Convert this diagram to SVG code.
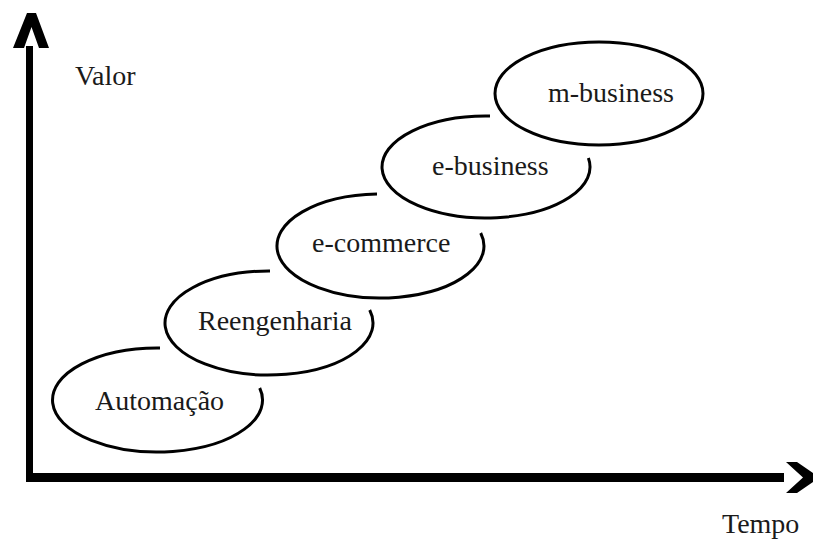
<svg xmlns="http://www.w3.org/2000/svg" width="813" height="539" viewBox="0 0 813 539">
<style>
.bg{fill:#fff}
.oval{fill:none;stroke:#000;stroke-width:3}
.lbl{font-family:"Liberation Serif","Times New Roman",serif;font-size:28px;fill:#1a1a1a}
.axis{stroke:#000;fill:none}
.head{fill:#000}
</style>
<rect class="bg" x="0" y="0" width="813" height="539"/>
<g id="connectors">
  <g id="axis-y">
    <line class="axis" x1="29.5" y1="46" x2="29.5" y2="482" stroke-width="7"/>
    <polygon class="head" points="13,48 27,13 36,13 49,48 39,48 31.5,27 24,48"/>
  </g>
  <g id="axis-x">
    <line class="axis" x1="26" y1="477.5" x2="784" y2="477.5" stroke-width="9"/>
    <polygon class="head" points="786,462 797,462 813,473 813,482 797,493 786,493 803,477.5"/>
  </g>
</g>
<g id="valor"><text class="lbl" x="75" y="85">Valor</text></g>
<g id="tempo"><text class="lbl" x="722" y="533">Tempo</text></g>
<g id="automacao">
  <path class="oval" d="M160,348 A105,52 0 1 0 259.7,388"/>
  <text class="lbl" x="95" y="410">Automação</text>
</g>
<g id="reengenharia">
  <path class="oval" d="M270,271 A104,52 0 1 0 369.7,310"/>
  <text class="lbl" x="198" y="330">Reengenharia</text>
</g>
<g id="ecommerce">
  <path class="oval" d="M377,194 A103.5,52 0 1 0 480.7,233"/>
  <text class="lbl" x="312" y="252">e-commerce</text>
</g>
<g id="ebusiness">
  <path class="oval" d="M490,116 A104,51 0 1 0 588.4,158"/>
  <text class="lbl" x="432" y="175">e-business</text>
</g>
<g id="mbusiness">
  <ellipse class="oval" cx="599" cy="93.5" rx="104" ry="51.5"/>
  <text class="lbl" x="548" y="102">m-business</text>
</g>
</svg>
